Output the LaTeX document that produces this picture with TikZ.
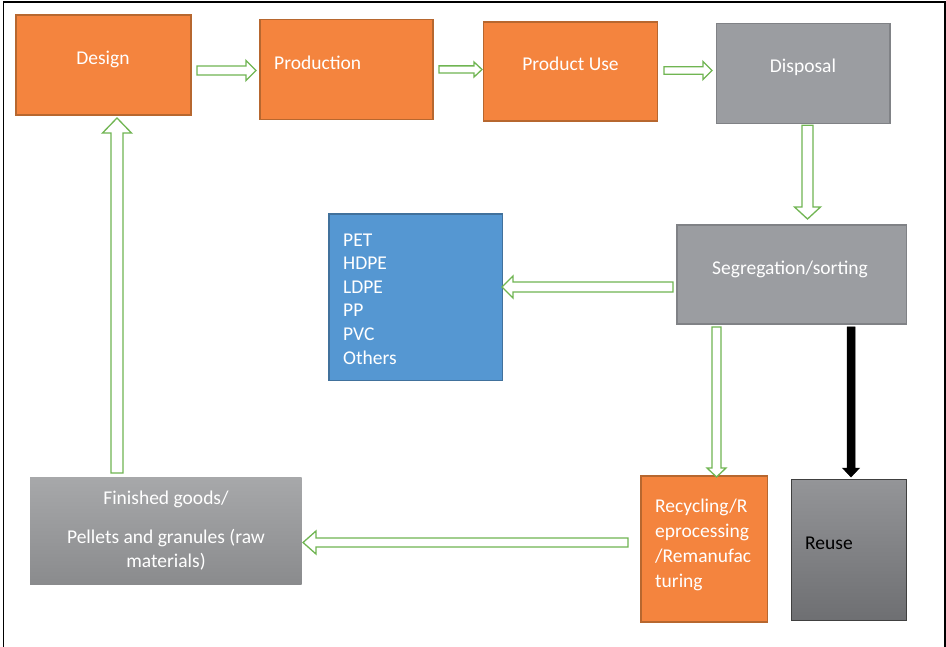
\documentclass[tikz,border=0pt]{standalone}
\usepackage{fontspec}
\setmainfont{Carlito}
\usetikzlibrary{calc}
\definecolor{orangefill}{HTML}{F4843E}
\definecolor{orangeline}{HTML}{B7672F}
\definecolor{greyfill}{HTML}{9B9DA1}
\definecolor{greyline}{HTML}{808286}
\definecolor{bluefill}{HTML}{5597D2}
\definecolor{blueline}{HTML}{41719C}
\definecolor{arrowgreen}{HTML}{70B552}
\definecolor{fintop}{HTML}{A7A8AA}
\definecolor{finbot}{HTML}{8A8B8D}
\definecolor{reusetop}{HTML}{949598}
\definecolor{reusebot}{HTML}{6E6F72}
\begin{document}
\begin{tikzpicture}[x=1pt,y=-1pt,
  boxbase/.style={rectangle, inner sep=0pt, outer sep=0pt, anchor=north west, line width=1.3pt},
  obox/.style={boxbase, fill=orangefill, draw=orangeline},
  gbox/.style={boxbase, fill=greyfill, draw=greyline},
  bbox/.style={boxbase, fill=bluefill, draw=blueline},
  txt/.style={inner sep=0pt, text=white, font=\fontsize{19.5}{23.6}\selectfont},
  blockarrow/.style n args={3}{to path={let \p1=(\tikztostart), \p2=(\tikztotarget),
      \n1={atan2(\y2-\y1,\x2-\x1)}, \n2={veclen(\x2-\x1,\y2-\y1)} in
      [shift={(\p1)}, rotate=\n1] (0,#1) -- ({\n2-#3},#1) -- ({\n2-#3},#2) -- (\n2,0)
      -- ({\n2-#3},-#2) -- ({\n2-#3},-#1) -- (0,-#1) -- cycle}},
  garrow/.style={draw=arrowgreen, fill=white, line width=1.3pt},
  karrow/.style={draw=black, fill=black, line width=0.5pt}
]
\useasboundingbox (0,0) rectangle (946,647);
\fill[white] (0,0) rectangle (946,647);
\draw[line width=1.6pt] (3.5,647) -- (3.5,1.8) -- (944.8,1.8) -- (944.8,647);

% boxes
\node[obox, minimum width=175pt, minimum height=100pt] (design) at (16,15) {};
\node[obox, minimum width=173pt, minimum height=100pt] (production) at (260,19.5) {};
\node[obox, minimum width=174pt, minimum height=99pt] (productuse) at (483.5,22) {};
\node[gbox, minimum width=173.5pt, minimum height=100pt] (disposal) at (716.5,23.3) {};
\node[gbox, minimum width=229.5pt, minimum height=99pt] (seg) at (677,225) {};
\node[bbox, minimum width=173.5pt, minimum height=166.5pt] (blue) at (329,214) {};
\node[boxbase, draw=none, top color=fintop, bottom color=finbot, minimum width=271.5pt, minimum height=106.6pt] (finished) at (30,477.7) {};
\node[obox, minimum width=126.3pt, minimum height=146pt] (recycling) at (641,476) {};
\node[boxbase, draw=black!75, top color=reusetop, bottom color=reusebot, minimum width=115pt, minimum height=141pt] (reuse) at (791.7,479.3) {};

% texts (multi-line nodes: base = baseline of last line)
\node[txt, anchor=base] (designtxt) at (103,65) {Design};
\node[txt, anchor=base west] (productiontxt) at (274,70) {Production};
\node[txt, anchor=base] (productusetxt) at (570.5,71) {Product Use};
\node[txt, anchor=base] (disposaltxt) at (803,73) {Disposal};
\node[txt, anchor=base west] (segtxt) at (712,275) {Segregation/sorting};
\node[txt, anchor=base west, align=left] (bluetxt) at (343,364) {PET\\HDPE\\LDPE\\PP\\PVC\\Others};
\node[txt, anchor=base, align=center] (finishedtxt) at (166,567) {Finished goods/\\[15.4pt]Pellets and granules (raw\\materials)};
\node[txt, anchor=base west, align=left, font=\fontsize{19.5}{25}\selectfont] (recytxt) at (655,587) {Recycling/R\\eprocessing\\/Remanufac\\turing};
\node[txt, anchor=base west, text=black] (reusetxt) at (805,549) {Reuse};

% arrows
\draw[garrow] ($(design.east)+(6,5.5)$) to[blockarrow={4.5}{10}{10}] ($(production.west)+(-4,1)$);
\draw[garrow] ($(production.east)+(6,0)$) to[blockarrow={3.6}{7.5}{8}] ($(productuse.west)+(-1.5,-2)$);
\draw[garrow] ($(productuse.east)+(6.5,-1)$) to[blockarrow={3.7}{9}{9}] ($(disposal.west)+(-4.5,-2.8)$);
\draw[garrow] ($(disposal.south)+(4.25,2)$) to[blockarrow={5.5}{13}{12}] ($(seg.north)+(15.75,-6)$);
\draw[garrow] ($(seg.west)+(-4,12.5)$) to[blockarrow={5}{11}{11}] ($(blue.east)+(-0.5,-10.25)$);
\draw[garrow] ($(seg.south)+(-75.25,3)$) to[blockarrow={4.5}{9.5}{9}] ($(recycling.north)+(12.35,1)$);
\draw[karrow] ($(seg.south)+(59.25,3)$) to[blockarrow={4}{8.5}{9}] ($(reuse.north)+(1.8,-2.3)$);
\draw[garrow] ($(recycling.west)+(-13,-6.5)$) to[blockarrow={4.5}{11.5}{13}] ($(finished.east)+(1.5,11.5)$);
\draw[garrow] ($(finished.north)+(-48.75,-4.7)$) to[blockarrow={6}{14.5}{15}] ($(design.south)+(13.5,3)$);
\end{tikzpicture}
\end{document}
